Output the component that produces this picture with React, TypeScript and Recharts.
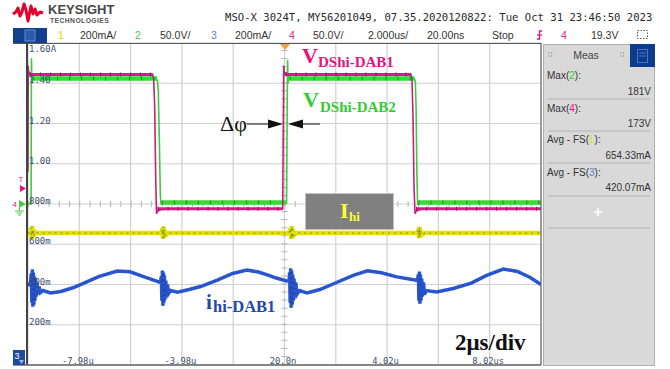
import React from "react";
import { LineChart, Line, XAxis, YAxis, CartesianGrid, ReferenceLine } from "recharts";

// ---- axis ticks ----
const xTicks = [-7.98, -5.98, -3.98, -1.98, 0.02, 2.02, 4.02, 6.02, 8.02];
const xTickLabels = ["-7.98u", "", "-3.98u", "", "20.0n", "", "4.02u", "", "8.02us"];
const yTicks = [0.2, 0.4, 0.6, 0.8, 1.0, 1.2, 1.4, 1.6];
const yTickLabels = ["200m", "400m", "600m", "800m", "1.00", "1.20", "1.40", "1.60A"];

// ---- ch4 (magenta) V_DShi-DAB1, volts vs time (us) ----
const magT = [-9.98, -9.97, -9.95, -9.92, -9.88, -9.7, -5.12, -5.08, -5.04, -5.0, -4.97, -4.93, -4.8, -4.5, -0.05, -0.03, -0.01, 0.02, 0.06, 0.2, 4.95, 4.99, 5.03, 5.07, 5.11, 5.15, 5.3, 5.5, 10.02];
const magV = [40, 172, 158, 163, 161, 161, 161, 155, 120, 30, -12, -9, -7, -6, -6, 80, 172, 160, 163, 161, 161, 155, 110, 20, -12, -9, -7, -6, -6];
const magBandT = [-9.9, -5.12, -5.11, -4.93, -0.06, -0.05, 0.06, 4.95, 4.96, 5.15, 10.02];
const magBandV = [161, 161, null, -6, -6, null, 161, 161, null, -6, -6];

// ---- ch2 (green) V_DShi-DAB2 ----
const greenT = [-9.98, -9.86, -9.845, -9.83, -9.8, -9.75, -9.6, -5.0, -4.93, -4.9, -4.86, -4.82, -4.79, -4.76, -4.6, 0.1, 0.125, 0.14, 0.16, 0.2, 0.35, 5.08, 5.12, 5.15, 5.18, 5.21, 5.24, 5.4, 10.02];
const greenV = [0, 0, 181, 150, 160, 157, 156, 156, 153, 140, 80, 10, -1, 2, 2, 2, 120, 179, 150, 158, 156, 156, 152, 120, 40, 0, -1, 2, 2];
const greenBandT = [-9.78, -4.95, -4.94, -4.76, 0.09, 0.1, 0.22, 5.07, 5.08, 5.24, 10.02];
const greenBandV = [156, 156, null, 2, 2, null, 156, 156, null, 2, 2];

// ---- ch1 (yellow) I_hi, amps ----
const yelT = [-9.98, -9.9, -9.86, -9.84, -9.82, -9.8, -9.78, -9.76, -9.72, -9.6, -4.8, -4.74, -4.72, -4.7, -4.68, -4.66, -4.62, -4.5, 0.2, 0.26, 0.28, 0.3, 0.32, 0.34, 0.38, 0.5, 5.2, 5.24, 5.26, 5.28, 5.3, 5.32, 5.36, 5.5, 10.02];
const yelA = [0.656, 0.656, 0.68, 0.625, 0.69, 0.63, 0.675, 0.64, 0.662, 0.656, 0.656, 0.676, 0.628, 0.688, 0.632, 0.672, 0.645, 0.656, 0.656, 0.678, 0.626, 0.69, 0.63, 0.674, 0.644, 0.656, 0.656, 0.674, 0.63, 0.686, 0.634, 0.67, 0.646, 0.656, 0.656];

// ---- ch3 (blue) i_hi-DAB1, amps ----
const blueT = [-9.98, -9.93, -9.88, -9.85, -9.83, -9.81, -9.79, -9.77, -9.75, -9.73, -9.71, -9.69, -9.66, -9.63, -9.6, -9.55, -9.5, -9.4, -9.1, -8.7, -8.2, -7.8, -7.2, -6.5, -6.0, -5.5, -5.0, -4.82, -4.78, -4.76, -4.74, -4.72, -4.7, -4.68, -4.66, -4.64, -4.61, -4.58, -4.54, -4.5, -4.42, -4.15, -3.7, -3.25, -2.6, -2.0, -1.45, -1.0, -0.65, -0.3, 0.1, 0.2, 0.22, 0.24, 0.26, 0.28, 0.3, 0.32, 0.34, 0.36, 0.39, 0.42, 0.46, 0.5, 0.6, 0.9, 1.4, 2.05, 2.7, 3.25, 3.8, 4.4, 5.0, 5.2, 5.24, 5.26, 5.28, 5.3, 5.32, 5.34, 5.37, 5.4, 5.44, 5.48, 5.55, 5.95, 6.6, 7.3, 7.9, 8.55, 9.1, 9.6, 10.02];
const blueA = [0.395, 0.4, 0.41, 0.455, 0.31, 0.475, 0.29, 0.46, 0.3, 0.44, 0.32, 0.43, 0.34, 0.41, 0.35, 0.39, 0.36, 0.37, 0.358, 0.365, 0.385, 0.407, 0.44, 0.467, 0.463, 0.44, 0.418, 0.41, 0.44, 0.32, 0.47, 0.295, 0.46, 0.31, 0.445, 0.325, 0.42, 0.34, 0.4, 0.355, 0.37, 0.362, 0.375, 0.39, 0.422, 0.455, 0.472, 0.462, 0.448, 0.432, 0.418, 0.42, 0.46, 0.31, 0.48, 0.285, 0.47, 0.3, 0.45, 0.32, 0.43, 0.34, 0.41, 0.35, 0.37, 0.358, 0.375, 0.41, 0.445, 0.468, 0.458, 0.438, 0.425, 0.42, 0.45, 0.32, 0.465, 0.305, 0.45, 0.32, 0.43, 0.34, 0.41, 0.35, 0.37, 0.363, 0.38, 0.407, 0.445, 0.477, 0.465, 0.435, 0.4];

const zip = (ts: number[], vs: (number | null)[]) => ts.map((t, i) => ({ t, v: vs[i] }));
const magData = zip(magT, magV);
const magBand = zip(magBandT, magBandV);
const greenData = zip(greenT, greenV);
const greenBand = zip(greenBandT, greenBandV);
const yelData = zip(yelT, yelA);
const blueData = zip(blueT, blueA);

const MONO = "'DejaVu Sans Mono', monospace";
const SANS = "'Liberation Sans', Arial, sans-serif";
const SERIF = "'Liberation Serif', 'Times New Roman', serif";
const LABEL = "#3d4f6e";

const XTick = (props: any) => {
  const i = xTicks.findIndex((v) => Math.abs(v - props.payload.value) < 1e-6);
  const s = i >= 0 ? xTickLabels[i] : "";
  if (!s) return null;
  return (
    <text x={props.x - 1.5} y={364} textAnchor="middle" fontFamily={MONO} fontSize={8.8} fill={LABEL}>
      {s}
    </text>
  );
};

const YTick = (props: any) => {
  const i = yTicks.findIndex((v) => Math.abs(v - props.payload.value) < 1e-6);
  const s = i >= 0 ? yTickLabels[i] : "";
  const top = i === yTicks.length - 1;
  return (
    <text x={29} y={props.y + (top ? 9 : 0)} textAnchor="start" fontFamily={MONO} fontSize={9} fill={LABEL}>
      {s}
    </text>
  );
};

export default function App() {
  return (
    <div style={{ position: "fixed", left: 0, top: 0, width: 670, height: 369, background: "#fff", overflow: "hidden" }}>
      <LineChart width={670} height={369} margin={{ top: 43, right: 129, bottom: 4, left: 28 }}>
        <CartesianGrid stroke="#d0d0d0" strokeWidth={1.2} />
        <XAxis type="number" dataKey="t" domain={[-9.98, 10.02]} ticks={xTicks} interval={0} mirror axisLine={false} tickLine={false} tick={<XTick />} allowDataOverflow />
        <YAxis type="number" domain={[0, 1.6]} ticks={yTicks} interval={0} mirror axisLine={false} tickLine={false} tick={<YTick />} allowDataOverflow />
        <YAxis yAxisId="V" type="number" domain={[-200, 200]} hide allowDataOverflow />
        <ReferenceLine y={0.8} stroke="#b4b4b4" strokeWidth={6} strokeDasharray="1 9.26" />
        <ReferenceLine x={0.02} stroke="#b4b4b4" strokeWidth={6} strokeDasharray="1 7.05" />
        <Line data={yelData} dataKey="v" stroke="#e2e200" strokeWidth={4.5} dot={false} isAnimationActive={false} />
        <Line data={yelData} dataKey="v" stroke="#8c8c30" strokeWidth={1.2} strokeDasharray="2 4" dot={false} isAnimationActive={false} />
        <Line data={blueData} dataKey="v" stroke="#2a58d2" strokeWidth={3.5} dot={false} isAnimationActive={false} />
        <Line data={blueData} dataKey="v" stroke="#1c3d9a" strokeWidth={1} strokeDasharray="1 4" dot={false} isAnimationActive={false} />
        <Line yAxisId="V" data={greenData} dataKey="v" stroke="#3ccc3c" strokeWidth={1.6} dot={false} isAnimationActive={false} />
        <Line yAxisId="V" data={greenBand} dataKey="v" stroke="#33dd33" strokeWidth={4.5} dot={false} isAnimationActive={false} />
        <Line yAxisId="V" data={greenBand} dataKey="v" stroke="#1e8f1e" strokeWidth={4} strokeDasharray="1 11" dot={false} isAnimationActive={false} />
        <Line yAxisId="V" data={magData} dataKey="v" stroke="#c4207e" strokeWidth={1.6} dot={false} isAnimationActive={false} />
        <Line yAxisId="V" data={magBand} dataKey="v" stroke="#d21c86" strokeWidth={3} dot={false} isAnimationActive={false} />
        <Line yAxisId="V" data={magBand} dataKey="v" stroke="#8a2060" strokeWidth={4} strokeDasharray="1 9" dot={false} isAnimationActive={false} />
      </LineChart>

      <svg width={670} height={369} style={{ position: "absolute", left: 0, top: 0, pointerEvents: "none" }}>
        {/* logo */}
        <polyline points="13,14 16,12 18,8 20,16 22,12 24,4 26,10 28,21 31,6 33,14 35,9 37,15 40,12 43,13" fill="none" stroke="#e4002b" strokeWidth={3} strokeLinejoin="round" />
        <text x={48} y={13.5} fontFamily={SANS} fontWeight="bold" fontSize={13} fill="#474747">KEYSIGHT</text>
        <text x={50} y={22.5} fontFamily={SANS} fontWeight="bold" fontSize={6.8} letterSpacing={0.4} fill="#555">TECHNOLOGIES</text>
        <text x={225} y={20.5} fontFamily={MONO} fontSize={10.6} fill="#2a2a2a">MSO-X 3024T, MY56201049, 07.35.2020120822: Tue Oct 31 23:46:50 2023</text>

        {/* channel bar */}
        <rect x={13} y={28} width={34} height={15} fill="#123f8f" />
        <rect x={25} y={30} width={10} height={11} fill="#2a5aaa" stroke="#6a8ac8" />
        <g fontFamily={SANS} fontSize={10.5} fill="#333">
          <text x={58} y={39} fill="#d6d600">1</text>
          <text x={80} y={39}>200mA/</text>
          <text x={135} y={39} fill="#44cc44">2</text>
          <text x={160} y={39}>50.0V/</text>
          <text x={211} y={39} fill="#5a7ee0">3</text>
          <text x={235} y={39}>200mA/</text>
          <text x={289} y={39} fill="#e0148c">4</text>
          <text x={313} y={39}>50.0V/</text>
          <text x={368} y={39}>2.000us/</text>
          <text x={427} y={39}>20.00ns</text>
          <text x={492} y={39}>Stop</text>
          <text x={561} y={39} fill="#e0148c">4</text>
          <text x={591} y={39}>19.3V</text>
        </g>
        <polyline points="537,39 539.5,39 539.5,31 542,31" fill="none" stroke="#e0148c" strokeWidth={1.4} />
        <line x1={537} y1={35} x2={542} y2={35} stroke="#e0148c" strokeWidth={1.2} />
        <rect x={637.5} y={30.5} width={10} height={8} fill="none" stroke="#555" strokeDasharray="1.5 1.5" />

        {/* frame */}
        <line x1={13} y1={43.5} x2={541} y2={43.5} stroke="#555" strokeWidth={1} />
        <line x1={27} y1={43} x2={27} y2={365} stroke="#444" strokeWidth={2} />
        <line x1={13} y1={365} x2={541} y2={365} stroke="#666" strokeWidth={1.5} />
        <line x1={541} y1={43} x2={541} y2={365} stroke="#555" strokeWidth={1} />

        {/* trigger marker */}
        <polygon points="280,44 290,44 285,50" fill="#f0a040" />

        {/* left markers */}
        <text x={18.5} y={182} fontFamily={SANS} fontSize={8} fill="#e0148c">T</text>
        <polygon points="20,185 26,188.5 20,192" fill="#e0148c" />
        <text x={12.5} y={207} fontFamily={SANS} fontSize={8} fill="#e0148c">4</text>
        <polygon points="19,200 26,204 19,208" fill="#44cc44" />
        <line x1={19.5} y1={207} x2={19.5} y2={211} stroke="#44cc44" />
        <line x1={15} y1={211} x2={24} y2={211} stroke="#44cc44" />
        <line x1={16.5} y1={213} x2={22.5} y2={213} stroke="#44cc44" />
        <line x1={18} y1={215} x2={21} y2={215} stroke="#44cc44" />
        <rect x={13} y={350} width={12} height={15} fill="#1a4c9c" />
        <text x={14.5} y={359} fontFamily={SANS} fontSize={9} fill="#fff">3</text>
        <polygon points="19,360 24,360 21.5,364" fill="#9ab4e8" />

        {/* annotations */}
        <text x={302} y={63} fontFamily={SERIF} fontWeight="bold" fontSize={22} fill="#e6127f">V</text>
        <text x={318} y={67} fontFamily={SERIF} fontWeight="bold" fontSize={15} fill="#e6127f">DShi-DAB1</text>
        <text x={303} y={107} fontFamily={SERIF} fontWeight="bold" fontSize={22} fill="#33cc33">V</text>
        <text x={320} y={112} fontFamily={SERIF} fontWeight="bold" fontSize={15} fill="#33cc33">DShi-DAB2</text>
        <text x={220} y={131} fontFamily={SERIF} fontSize={22} fill="#111">Δφ</text>
        <line x1={247} y1={124} x2={270} y2={124} stroke="#111" strokeWidth={1} />
        <polygon points="268,119.5 283,124 268,128.5" fill="#111" />
        <line x1={301} y1={124} x2={320} y2={124} stroke="#111" strokeWidth={1} />
        <polygon points="303,119.5 288,124 303,128.5" fill="#111" />
        <rect x={305.5} y={193.5} width={88} height={36} fill="#808080" stroke="#c4c4c4" />
        <text x={340} y={218} fontFamily={SERIF} fontWeight="bold" fontSize={22} fill="#ffff33">I</text>
        <text x={349} y={221} fontFamily={SERIF} fontWeight="bold" fontSize={13} fill="#ffff33">hi</text>
        <text x={206} y={309} fontFamily={SERIF} fontWeight="bold" fontSize={21} fill="#2447a8">i</text>
        <text x={213} y={312} fontFamily={SERIF} fontWeight="bold" fontSize={16.5} fill="#2447a8">hi-DAB1</text>
        <text x={455} y={350} fontFamily={SERIF} fontWeight="bold" fontSize={23} fill="#111">2μs/div</text>

        {/* measurement panel */}
        <rect x={543.5} y={44.5} width={111} height={321} fill="#d9d9d9" stroke="#b0b0b0" />
        <rect x={630} y={44} width={25} height={23} fill="#0b3b8c" />
        <rect x={637.5} y={49.5} width={10} height={13} fill="none" stroke="#4f74c2" />
        <line x1={639} y1={53} x2={646} y2={53} stroke="#4f74c2" />
        <line x1={639} y1={56} x2={646} y2={56} stroke="#4f74c2" />
        <g fill="#8a8a8a">
          <circle cx={549} cy={53} r={0.7} /><circle cx={551.5} cy={53} r={0.7} />
          <circle cx={549} cy={56} r={0.7} /><circle cx={551.5} cy={56} r={0.7} />
          <circle cx={621} cy={53} r={0.7} /><circle cx={623.5} cy={53} r={0.7} />
          <circle cx={621} cy={56} r={0.7} /><circle cx={623.5} cy={56} r={0.7} />
        </g>
        <g fontFamily={SANS} fontSize={10} fill="#333">
          <text x={586} y={59} textAnchor="middle" fontSize={10.5} fill="#444">Meas</text>
          <text x={547} y={78.5}>Max(<tspan fill="#33cc33">2</tspan>):</text>
          <text x={651} y={95} textAnchor="end">181V</text>
          <text x={547} y={111.5}>Max(<tspan fill="#e0148c">4</tspan>):</text>
          <text x={651} y={127} textAnchor="end">173V</text>
          <text x={547} y={143}>Avg - FS(<tspan fill="#e6e600">1</tspan>):</text>
          <text x={651} y={159} textAnchor="end">654.33mA</text>
          <text x={547} y={175.5}>Avg - FS(<tspan fill="#5a7ee0">3</tspan>):</text>
          <text x={651} y={191} textAnchor="end">420.07mA</text>
        </g>
        <g stroke="#b2b2b2">
          <line x1={548} y1={99} x2={650} y2={99} />
          <line x1={548} y1={131} x2={650} y2={131} />
          <line x1={548} y1={163} x2={650} y2={163} />
          <line x1={548} y1={196} x2={650} y2={196} />
          <line x1={548} y1={228} x2={650} y2={228} />
        </g>
        <text x={598} y={217} textAnchor="middle" fontFamily={SANS} fontSize={15} fontWeight="bold" fill="#fff">+</text>
      </svg>
    </div>
  );
}
